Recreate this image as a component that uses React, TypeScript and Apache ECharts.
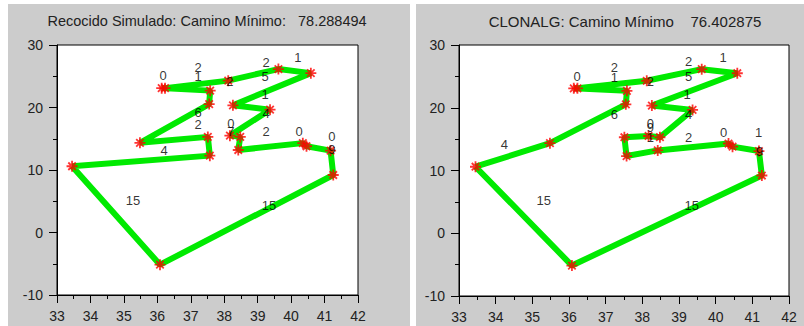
import React, { useEffect, useRef } from "react";
import * as echarts from "echarts";

// City coordinates (same cities in both panels)
const cityX = [36.13, 36.23, 37.58, 37.55, 38.12, 39.62, 40.59, 38.26, 39.37, 37.51, 38.17, 38.48, 35.48, 37.57, 38.42, 40.35, 40.46, 41.18, 33.45, 41.26, 36.08];
const cityY = [23.1, 23.1, 22.7, 20.55, 24.3, 26.15, 25.5, 20.35, 19.65, 15.3, 15.5, 15.3, 14.35, 12.3, 13.2, 14.3, 13.8, 13.1, 10.6, 9.2, -5.15];

// Tour orders (indices into the city arrays)
const tourSA = [18, 20, 19, 17, 16, 15, 14, 11, 10, 8, 7, 6, 5, 4, 1, 0, 2, 3, 12, 9, 13];
const tourCLONALG = [18, 12, 3, 2, 0, 1, 4, 5, 6, 7, 8, 11, 10, 9, 13, 14, 15, 16, 17, 19, 20];

// Text labels inside the plots
const labelsSAText = ["0", "2", "1", "2", "2", "5", "1", "1", "4", "6", "2", "0", "7", "2", "0", "0", "9", "4", "15", "15"];
const labelsSAX = [36.17, 37.22, 37.22, 38.17, 39.25, 39.22, 40.2, 39.22, 39.25, 37.22, 37.22, 38.2, 38.2, 39.25, 40.24, 41.22, 41.22, 36.2, 35.27, 39.34];
const labelsSAY = [25.1, 26.4, 25.0, 24.2, 27.2, 25.0, 28.0, 22.1, 19.1, 19.2, 17.3, 17.4, 16.2, 16.2, 16.2, 15.4, 13.3, 13.1, 5.1, 4.3];

const labelsCLText = ["0", "2", "1", "2", "2", "5", "1", "1", "4", "6", "0", "9", "1", "2", "0", "1", "9", "4", "15", "15"];
const labelsCLX = [36.22, 37.24, 37.24, 38.22, 39.26, 39.26, 40.2, 39.22, 39.26, 37.24, 38.22, 38.22, 38.22, 39.26, 40.22, 41.17, 41.2, 34.24, 35.31, 39.35];
const labelsCLY = [25.0, 26.4, 24.9, 24.2, 27.4, 25.0, 28.05, 22.1, 18.9, 19.0, 17.5, 16.8, 15.2, 15.2, 16.1, 16.1, 13.06, 14.1, 5.15, 4.35];

const titleSA = "Recocido Simulado: Camino Mínimo:   78.288494";
const titleCL = "CLONALG: Camino Mínimo    76.402875";

const xTicks = { min: 33, max: 42, interval: 1 };
const yTicks = { min: -10, max: 30, interval: 10 };

const FONT = "Liberation Sans, Arial, sans-serif";
const ASTERISK = "path://M5 0L5 10M0 5L10 5M1.6 1.6L8.4 8.4M1.6 8.4L8.4 1.6";

function tourData(order: number[]) {
  const pts = order.map((i) => [cityX[i], cityY[i]]);
  pts.push([cityX[order[0]], cityY[order[0]]]);
  return pts;
}

function labelData(t: string[], xs: number[], ys: number[]) {
  return t.map((s, i) => ({ name: s, value: [xs[i], ys[i]] }));
}

function axisX(gridIndex: number) {
  return {
    type: "value" as const,
    gridIndex,
    ...xTicks,
    axisLine: { onZero: false, lineStyle: { color: "#000", width: 1 } },
    axisTick: { show: true, length: 8, lineStyle: { color: "#000" } },
    minorTick: { show: true, splitNumber: 2, length: 4, lineStyle: { color: "#000" } },
    splitLine: { show: false },
    axisLabel: { color: "#222", fontSize: 14, fontFamily: FONT, margin: 14 },
  };
}

function axisY(gridIndex: number) {
  return {
    type: "value" as const,
    gridIndex,
    ...yTicks,
    axisLine: { onZero: false, lineStyle: { color: "#000", width: 1 } },
    axisTick: { show: true, length: 8, lineStyle: { color: "#000" } },
    minorTick: { show: true, splitNumber: 2, length: 4, lineStyle: { color: "#000" } },
    splitLine: { show: false },
    axisLabel: { color: "#222", fontSize: 14, fontFamily: FONT, margin: 14 },
  };
}

function panelSeries(idx: number, order: number[], labels: any[]) {
  return [
    {
      type: "line",
      xAxisIndex: idx,
      yAxisIndex: idx,
      data: tourData(order),
      showSymbol: false,
      lineStyle: { color: "#00ea00", width: 6 },
      z: 2,
    },
    {
      type: "scatter",
      xAxisIndex: idx,
      yAxisIndex: idx,
      data: cityX.map((x, i) => [x, cityY[i]]),
      symbol: ASTERISK,
      symbolSize: 11,
      itemStyle: { color: "rgba(0,0,0,0)", borderColor: "#ff0000", borderWidth: 1.8 },
      z: 3,
    },
    {
      type: "scatter",
      xAxisIndex: idx,
      yAxisIndex: idx,
      data: labels,
      symbol: "circle",
      symbolSize: 1,
      itemStyle: { color: "rgba(0,0,0,0)" },
      label: {
        show: true,
        position: "inside",
        formatter: "{b}",
        color: "#000",
        textBorderWidth: 0,
        fontSize: 13,
        fontFamily: FONT,
      },
      labelLayout: { hideOverlap: false },
      z: 4,
    },
  ];
}

export default function App() {
  const ref = useRef<HTMLDivElement>(null);
  useEffect(() => {
    if (!ref.current) return;
    const chart = echarts.init(ref.current, undefined, { renderer: "svg" });
    chart.setOption({
      animation: false,
      backgroundColor: "#ffffff",
      graphic: [
        { type: "rect", shape: { x: 8, y: 4, width: 402, height: 322 }, style: { fill: "#cccccc" }, z: -10 },
        { type: "rect", shape: { x: 416, y: 4, width: 388, height: 322 }, style: { fill: "#cccccc" }, z: -10 },
        {
          type: "text",
          x: 207,
          y: 21,
          style: { text: titleSA, fill: "#222", font: `14.5px ${FONT}`, textAlign: "center", textVerticalAlign: "middle" },
        },
        {
          type: "text",
          x: 625,
          y: 21,
          style: { text: titleCL, fill: "#222", font: `15px ${FONT}`, textAlign: "center", textVerticalAlign: "middle" },
        },
      ],
      grid: [
        { left: 57, top: 45, width: 301, height: 250, show: true, backgroundColor: "#fff", borderColor: "#000", borderWidth: 1 },
        { left: 459, top: 45, width: 330, height: 251, show: true, backgroundColor: "#fff", borderColor: "#000", borderWidth: 1 },
      ],
      xAxis: [axisX(0), axisX(1)],
      yAxis: [axisY(0), axisY(1)],
      series: [
        ...panelSeries(0, tourSA, labelData(labelsSAText, labelsSAX, labelsSAY)),
        ...panelSeries(1, tourCLONALG, labelData(labelsCLText, labelsCLX, labelsCLY)),
      ],
    });
    return () => chart.dispose();
  }, []);
  return (
    <div
      ref={ref}
      style={{ position: "absolute", left: 0, top: 0, width: 804, height: 326 }}
    />
  );
}
